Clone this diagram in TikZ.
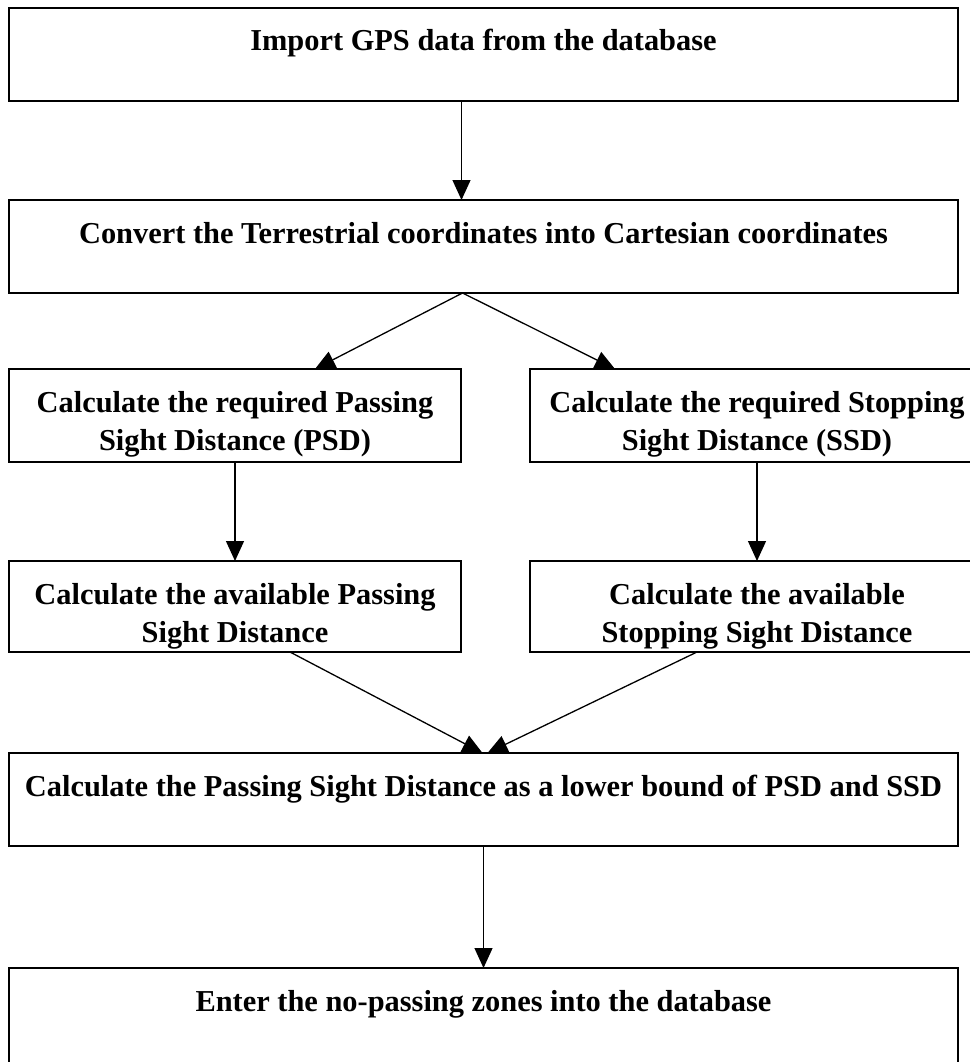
\documentclass[tikz,border=0pt]{standalone}
\usepackage{fontspec}
\setmainfont{Liberation Serif}
\usetikzlibrary{arrows.meta,positioning}

\begin{document}
\begin{tikzpicture}[x=1pt,y=1pt,node distance=99pt,
    every node/.style={draw,line width=2pt,align=center,inner sep=0pt,outer sep=0pt,
      minimum width=949pt,minimum height=93pt,text height=43pt,text depth=50pt,
      font=\fontsize{30.4}{38}\selectfont\bfseries},
    twoline/.style={text height=81pt,text depth=12pt},
    flow/.style={-{Triangle[length=20pt,width=18pt]},line width=1.3pt}]
  \useasboundingbox (0,0) rectangle (969,-1062);
  \node[anchor=north west] (imp) at (9,-8) {Import GPS data from the database};
  \node[below=of imp] (conv) {Convert the Terrestrial coordinates into Cartesian coordinates};
  \node[twoline,below=76pt of conv.south west,anchor=north west,minimum width=452pt] (reqp) {Calculate the required Passing\\Sight Distance (PSD)};
  \node[twoline,right=69pt of reqp,minimum width=454pt] (reqs) {Calculate the required Stopping\\Sight Distance (SSD)};
  \node[twoline,below=of reqp,minimum width=452pt,minimum height=91pt,text depth=10pt] (avp) {Calculate the available Passing\\Sight Distance};
  \node[twoline,below=of reqs,minimum width=454pt,minimum height=91pt,text depth=10pt] (avs) {Calculate the available\\Stopping Sight Distance};
  \node[below=101pt of avp.south west,anchor=north west] (psd) {Calculate the Passing Sight Distance as a lower bound of PSD and SSD};
  \node[below=122pt of psd,minimum height=96pt,text depth=53pt] (zones) {Enter the no-passing zones into the database};
  \draw[flow] ([xshift=-22pt]imp.south) -- ([xshift=-22pt]conv.north);
  \draw[flow] ([xshift=-21pt]conv.south) -- ([xshift=80pt]reqp.north);
  \draw[flow] ([xshift=-21pt]conv.south) -- ([xshift=-142pt]reqs.north);
  \draw[flow] (reqp.south) -- (avp.north);
  \draw[flow] (reqs.south) -- (avs.north);
  \draw[flow] ([xshift=55pt]avp.south) -- ([xshift=-1pt]psd.north);
  \draw[flow] ([xshift=-60pt]avs.south) -- ([xshift=4pt]psd.north);
  \draw[flow] (psd.south) -- (zones.north);
\end{tikzpicture}
\end{document}
